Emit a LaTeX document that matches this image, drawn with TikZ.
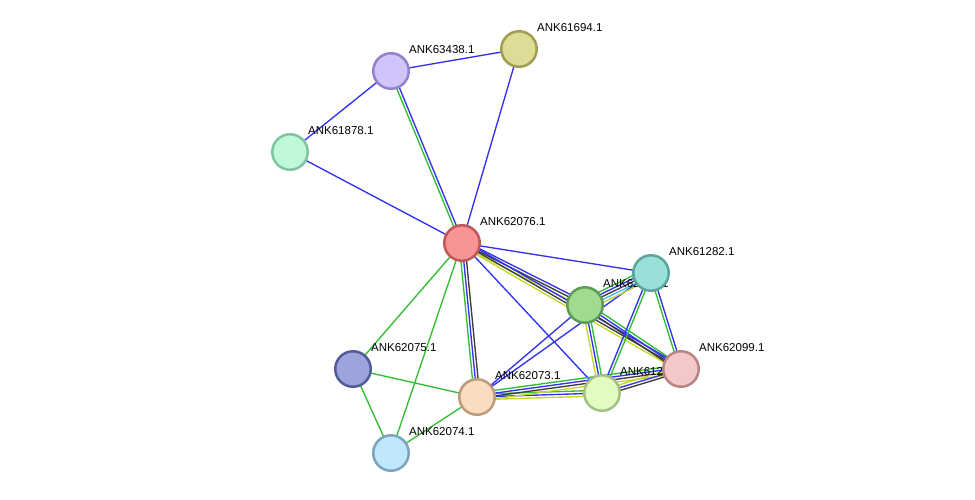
\documentclass[tikz,border=0pt]{standalone}
\usepackage{fontspec}
\setmainfont{Liberation Sans}
\usetikzlibrary{calc}
\pgfdeclarelayer{edges}
\pgfdeclarelayer{labels}
\pgfsetlayers{edges,labels,main}
\definecolor{eblue}{RGB}{50,50,240}
\definecolor{egreen}{RGB}{50,190,50}
\definecolor{eblack}{RGB}{60,60,60}
\definecolor{eyellow}{RGB}{196,214,40}
\definecolor{ecyan}{RGB}{70,190,230}
\newcommand{\medge}[3]{%
  \foreach \c/\o in {#3}{%
    \draw[edgeline,\c] ($(#1)!\o!90:(#2)$) -- ($(#2)!\o!-90:(#1)$);
  }}
\tikzset{
  prot/.style={circle,minimum size=35.5pt,inner sep=0pt,line width=2.5pt},
  edgeline/.style={line width=1.35pt},
  lab/.style={anchor=west,inner sep=0pt,font=\fontsize{11.5}{12}\selectfont}
}
\begin{document}
\begin{tikzpicture}[x=1pt,y=-1pt]
\useasboundingbox (0,0) rectangle (975,499);
% nodes
\node[prot,fill={rgb,255:red,210;green,196;blue,250},draw={rgb,255:red,148;green,130;blue,200}] (n63438) at (391,71) {};
\node[prot,fill={rgb,255:red,222;green,220;blue,150},draw={rgb,255:red,160;green,158;blue,80}] (n61694) at (519,49) {};
\node[prot,fill={rgb,255:red,192;green,248;blue,218},draw={rgb,255:red,128;green,196;blue,160}] (n61878) at (290,152) {};
\node[prot,fill={rgb,255:red,247;green,148;blue,148},draw={rgb,255:red,192;green,88;blue,88}] (n62076) at (462,243) {};
\node[prot,fill={rgb,255:red,152;green,224;blue,216},draw={rgb,255:red,92;green,164;blue,156}] (n61282) at (651,273) {};
\node[prot,fill={rgb,255:red,160;green,220;blue,144},draw={rgb,255:red,92;green,156;blue,88}] (ngreen) at (585,305) {};
\node[prot,fill={rgb,255:red,244;green,200;blue,200},draw={rgb,255:red,184;green,132;blue,132}] (n62099) at (681,369) {};
\node[prot,fill={rgb,255:red,156;green,164;blue,220},draw={rgb,255:red,80;green,92;blue,152}] (n62075) at (353,369) {};
\node[prot,fill={rgb,255:red,252;green,220;blue,192},draw={rgb,255:red,188;green,156;blue,124}] (n62073) at (477,397) {};
\node[prot,fill={rgb,255:red,224;green,252;blue,192},draw={rgb,255:red,164;green,192;blue,132}] (nlgreen) at (602,393) {};
\node[prot,fill={rgb,255:red,192;green,232;blue,252},draw={rgb,255:red,124;green,164;blue,188}] (n62074) at (391,453) {};
% labels
\begin{pgfonlayer}{labels}
\node[lab] (l63438) at ($(n63438)+(18,-21)$) {ANK63438.1};
\node[lab] (l61694) at ($(n61694)+(18,-21)$) {ANK61694.1};
\node[lab] (l61878) at ($(n61878)+(18,-21)$) {ANK61878.1};
\node[lab] (l62076) at ($(n62076)+(18,-21)$) {ANK62076.1};
\node[lab] (l61282) at ($(n61282)+(18,-21)$) {ANK61282.1};
\node[lab] (lgreen) at ($(ngreen)+(18,-21)$) {ANK62072.1};
\node[lab] (l62099) at ($(n62099)+(18,-21)$) {ANK62099.1};
\node[lab] (l62075) at ($(n62075)+(18,-21)$) {ANK62075.1};
\node[lab] (l62073) at ($(n62073)+(18,-21)$) {ANK62073.1};
\node[lab] (llgreen) at ($(nlgreen)+(18,-21)$) {ANK61283.1};
\node[lab] (l62074) at ($(n62074)+(18,-21)$) {ANK62074.1};
\end{pgfonlayer}
% edges
\begin{pgfonlayer}{edges}
\medge{n63438}{n61694}{eblue/0pt}
\medge{n63438}{n61878}{eblue/0pt}
\medge{n63438}{n62076}{egreen/-1.4pt,eblue/1.4pt}
\medge{n61694}{n62076}{eblue/0pt}
\medge{n61878}{n62076}{eblue/0pt}
\medge{n62076}{n61282}{eblue/0pt}
\medge{n62076}{ngreen}{eblue/2.8pt,eblack/0pt,eyellow/-2.8pt}
\medge{n62076}{n62099}{eblue/2.8pt,eblack/0pt,eyellow/-2.8pt}
\medge{n62076}{n62073}{egreen/-2.8pt,eblue/0pt,eblack/2.8pt}
\medge{n62076}{nlgreen}{eblue/0pt}
\medge{n62076}{n62075}{egreen/0pt}
\medge{n62076}{n62074}{egreen/0pt}
\medge{n62075}{n62073}{egreen/0pt}
\medge{n62075}{n62074}{egreen/0pt}
\medge{n62074}{n62073}{egreen/0pt}
\medge{n62073}{nlgreen}{eyellow/-2.8pt,eblue/0pt,egreen/2.8pt}
\medge{n62073}{n62099}{egreen/4.2pt,eblue/1.4pt,eblack/-1.4pt,eyellow/-4.2pt}
\medge{n62073}{ngreen}{eblue/0pt}
\medge{n62073}{n61282}{eblue/0pt}
\medge{ngreen}{nlgreen}{egreen/2.8pt,eblue/0pt,eyellow/-2.8pt}
\medge{ngreen}{n61282}{egreen/5.6pt,eblue/2.8pt,eblack/0pt,ecyan/-2.8pt,eyellow/-5.6pt}
\medge{ngreen}{n62099}{egreen/2.8pt,eblue/0pt,eblack/-2.8pt}
\medge{n61282}{nlgreen}{egreen/1.4pt,eblue/-1.4pt}
\medge{n61282}{n62099}{eblue/1.4pt,egreen/-1.4pt}
\medge{nlgreen}{n62099}{eyellow/2.8pt,eblue/0pt,eblack/-2.8pt}
\end{pgfonlayer}
\end{tikzpicture}
\end{document}
